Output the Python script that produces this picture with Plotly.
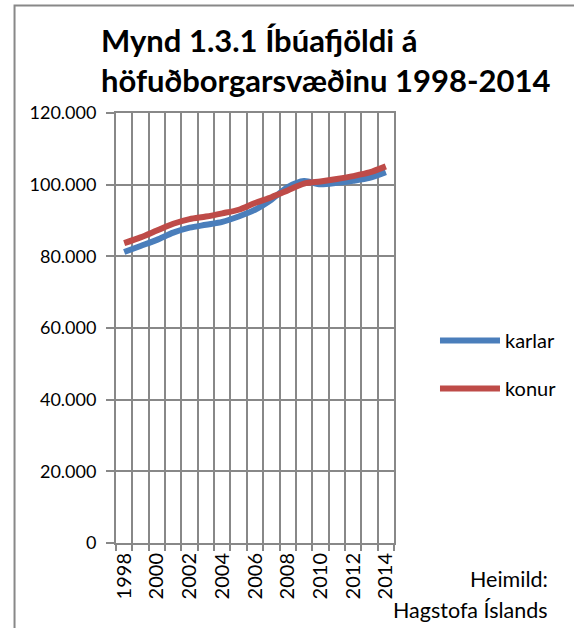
import plotly.graph_objects as go

years = list(range(1998, 2015))
karlar = [81200, 82900, 84600, 86600, 88000, 88800, 89600, 91100, 93000,
          95800, 99300, 101000, 100100, 100500, 101100, 101900, 103500]
konur = [83700, 85300, 87200, 89100, 90400, 91100, 92000, 93000, 94900,
         96500, 98400, 100300, 100900, 101600, 102400, 103400, 105100]
x_tick_labels = [str(y) for y in range(1998, 2015, 2)]
y_ticks = [0, 20000, 40000, 60000, 80000, 100000, 120000]

title_text = "Mynd 1.3.1 Íbúafjöldi á<br>höfuðborgarsvæðinu 1998-2014"
source_lines = ["Heimild:", "Hagstofa Íslands"]

FONT = "Lato"
GRID = "#888888"

W, H = 574, 628
L, R, T, B = 115.7, 405.3, 113.3, 542.7


def px(X):
    return (X - L) / (R - L)


def py(Y):
    return (B - Y) / (B - T)


fig = go.Figure()
fig.add_trace(go.Scatter(x=years, y=karlar, name="karlar", mode="lines",
                         line=dict(color="#4A7EBB", width=6, shape="spline", smoothing=0.8),
                         legendgroup="a"))
fig.add_trace(go.Scatter(x=years, y=konur, name="konur", mode="lines",
                         line=dict(color="#BE4B48", width=6, shape="spline", smoothing=0.8),
                         legendgroup="b"))

fig.update_layout(
    width=W, height=H,
    margin=dict(l=L, r=W - R, t=T, b=H - B),
    paper_bgcolor="white", plot_bgcolor="white",
    separators=",.",
    font=dict(family=FONT, color="black", size=18),
    showlegend=True,
    legend=dict(x=px(448), y=py(321), xanchor="left", yanchor="top",
                font=dict(size=20, family=FONT), traceorder="grouped",
                tracegroupgap=19, itemwidth=60, bgcolor="rgba(0,0,0,0)"),
)

fig.update_xaxes(
    range=[1997.5, 2014.5],
    tickmode="array", tickvals=list(range(1998, 2015, 2)), ticktext=x_tick_labels,
    tickangle=-90, ticks="", showgrid=False, zeroline=False,
    showline=True, linecolor=GRID, linewidth=2, mirror=True,
    tickfont=dict(size=20, family=FONT),
    minor=dict(tick0=1997.5, dtick=1, showgrid=True, gridcolor=GRID, gridwidth=2,
               ticks="outside", ticklen=6, tickcolor=GRID, tickwidth=2),
)
fig.update_yaxes(
    range=[0, 120000], tickvals=y_ticks, tickformat=",d",
    ticks="outside", ticklen=8, tickcolor=GRID, tickwidth=2,
    showgrid=True, gridcolor=GRID, gridwidth=2, zeroline=False,
    showline=True, linecolor=GRID, linewidth=2, mirror=True,
    tickfont=dict(size=18, family=FONT), ticklabelstandoff=6,
)

fig.add_annotation(text="<b>" + title_text + "</b>", xref="paper", yref="paper",
                   x=px(98), y=py(19), xanchor="left", yanchor="top", align="left",
                   showarrow=False, font=dict(size=31, family=FONT, color="black"))
fig.add_annotation(text=source_lines[0], xref="paper", yref="paper",
                   x=px(568), y=py(579), xanchor="right", yanchor="middle",
                   showarrow=False, font=dict(size=21.5, family=FONT))
fig.add_annotation(text=source_lines[1], xref="paper", yref="paper",
                   x=px(568), y=py(610), xanchor="right", yanchor="middle",
                   showarrow=False, font=dict(size=21.5, family=FONT))

# chart frame: only its left and top edges fall inside the picture
fig.add_shape(type="rect", xref="paper", yref="paper",
              x0=px(10), x1=px(640), y0=py(700), y1=py(6),
              line=dict(color="#888888", width=2), layer="below")

fig.write_html("out.html", config={"displayModeBar": False},
               post_script="document.body.style.margin='0';document.body.style.overflow='hidden';")
